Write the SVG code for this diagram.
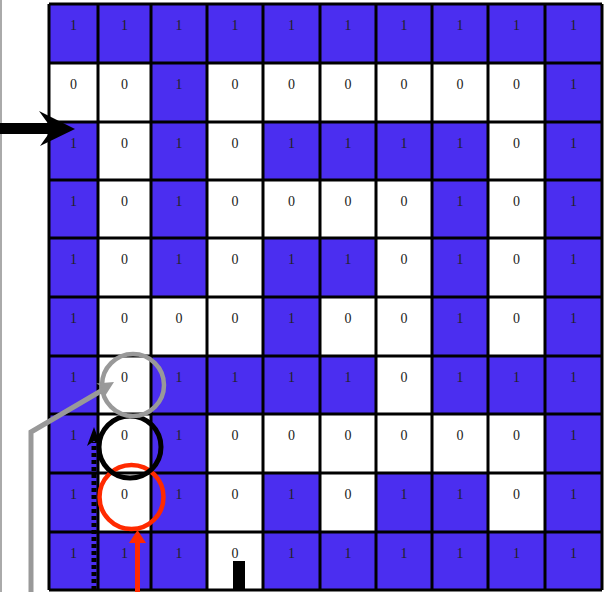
<svg xmlns="http://www.w3.org/2000/svg" width="605" height="592" viewBox="0 0 605 592">
<style>
.b{fill:#4b2ef0}
.w{fill:#ffffff}
.t{font-family:"Liberation Serif","Times New Roman",serif;font-size:14px;fill:#222;text-anchor:middle}
.g{stroke:#000;stroke-width:3;fill:none}
</style>
<rect x="0" y="0" width="605" height="592" fill="#fff"/>
<line x1="1" y1="0" x2="1" y2="592" stroke="#aaa" stroke-width="2"/>
<g id="grid">
<g id="r0">
<rect class="b" x="49" y="4" width="49" height="59"/><text class="t" x="73.5" y="30">1</text>
<rect class="b" x="98" y="4" width="53" height="59"/><text class="t" x="124.5" y="30">1</text>
<rect class="b" x="151" y="4" width="56" height="59"/><text class="t" x="179" y="30">1</text>
<rect class="b" x="207" y="4" width="56" height="59"/><text class="t" x="235" y="30">1</text>
<rect class="b" x="263" y="4" width="57" height="59"/><text class="t" x="291.5" y="30">1</text>
<rect class="b" x="320" y="4" width="56" height="59"/><text class="t" x="348" y="30">1</text>
<rect class="b" x="376" y="4" width="56" height="59"/><text class="t" x="404" y="30">1</text>
<rect class="b" x="432" y="4" width="56" height="59"/><text class="t" x="460" y="30">1</text>
<rect class="b" x="488" y="4" width="57" height="59"/><text class="t" x="516.5" y="30">1</text>
<rect class="b" x="545" y="4" width="57" height="59"/><text class="t" x="573.5" y="30">1</text>
</g>
<g id="r1">
<rect class="w" x="49" y="63" width="49" height="59"/><text class="t" x="73.5" y="89">0</text>
<rect class="w" x="98" y="63" width="53" height="59"/><text class="t" x="124.5" y="89">0</text>
<rect class="b" x="151" y="63" width="56" height="59"/><text class="t" x="179" y="89">1</text>
<rect class="w" x="207" y="63" width="56" height="59"/><text class="t" x="235" y="89">0</text>
<rect class="w" x="263" y="63" width="57" height="59"/><text class="t" x="291.5" y="89">0</text>
<rect class="w" x="320" y="63" width="56" height="59"/><text class="t" x="348" y="89">0</text>
<rect class="w" x="376" y="63" width="56" height="59"/><text class="t" x="404" y="89">0</text>
<rect class="w" x="432" y="63" width="56" height="59"/><text class="t" x="460" y="89">0</text>
<rect class="w" x="488" y="63" width="57" height="59"/><text class="t" x="516.5" y="89">0</text>
<rect class="b" x="545" y="63" width="57" height="59"/><text class="t" x="573.5" y="89">1</text>
</g>
<g id="r2">
<rect class="b" x="49" y="122" width="49" height="58"/><text class="t" x="73.5" y="148">1</text>
<rect class="w" x="98" y="122" width="53" height="58"/><text class="t" x="124.5" y="148">0</text>
<rect class="b" x="151" y="122" width="56" height="58"/><text class="t" x="179" y="148">1</text>
<rect class="w" x="207" y="122" width="56" height="58"/><text class="t" x="235" y="148">0</text>
<rect class="b" x="263" y="122" width="57" height="58"/><text class="t" x="291.5" y="148">1</text>
<rect class="b" x="320" y="122" width="56" height="58"/><text class="t" x="348" y="148">1</text>
<rect class="b" x="376" y="122" width="56" height="58"/><text class="t" x="404" y="148">1</text>
<rect class="b" x="432" y="122" width="56" height="58"/><text class="t" x="460" y="148">1</text>
<rect class="w" x="488" y="122" width="57" height="58"/><text class="t" x="516.5" y="148">0</text>
<rect class="b" x="545" y="122" width="57" height="58"/><text class="t" x="573.5" y="148">1</text>
</g>
<g id="r3">
<rect class="b" x="49" y="180" width="49" height="58"/><text class="t" x="73.5" y="206">1</text>
<rect class="w" x="98" y="180" width="53" height="58"/><text class="t" x="124.5" y="206">0</text>
<rect class="b" x="151" y="180" width="56" height="58"/><text class="t" x="179" y="206">1</text>
<rect class="w" x="207" y="180" width="56" height="58"/><text class="t" x="235" y="206">0</text>
<rect class="w" x="263" y="180" width="57" height="58"/><text class="t" x="291.5" y="206">0</text>
<rect class="w" x="320" y="180" width="56" height="58"/><text class="t" x="348" y="206">0</text>
<rect class="w" x="376" y="180" width="56" height="58"/><text class="t" x="404" y="206">0</text>
<rect class="b" x="432" y="180" width="56" height="58"/><text class="t" x="460" y="206">1</text>
<rect class="w" x="488" y="180" width="57" height="58"/><text class="t" x="516.5" y="206">0</text>
<rect class="b" x="545" y="180" width="57" height="58"/><text class="t" x="573.5" y="206">1</text>
</g>
<g id="r4">
<rect class="b" x="49" y="238" width="49" height="59"/><text class="t" x="73.5" y="264">1</text>
<rect class="w" x="98" y="238" width="53" height="59"/><text class="t" x="124.5" y="264">0</text>
<rect class="b" x="151" y="238" width="56" height="59"/><text class="t" x="179" y="264">1</text>
<rect class="w" x="207" y="238" width="56" height="59"/><text class="t" x="235" y="264">0</text>
<rect class="b" x="263" y="238" width="57" height="59"/><text class="t" x="291.5" y="264">1</text>
<rect class="b" x="320" y="238" width="56" height="59"/><text class="t" x="348" y="264">1</text>
<rect class="w" x="376" y="238" width="56" height="59"/><text class="t" x="404" y="264">0</text>
<rect class="b" x="432" y="238" width="56" height="59"/><text class="t" x="460" y="264">1</text>
<rect class="w" x="488" y="238" width="57" height="59"/><text class="t" x="516.5" y="264">0</text>
<rect class="b" x="545" y="238" width="57" height="59"/><text class="t" x="573.5" y="264">1</text>
</g>
<g id="r5">
<rect class="b" x="49" y="297" width="49" height="59"/><text class="t" x="73.5" y="323">1</text>
<rect class="w" x="98" y="297" width="53" height="59"/><text class="t" x="124.5" y="323">0</text>
<rect class="w" x="151" y="297" width="56" height="59"/><text class="t" x="179" y="323">0</text>
<rect class="w" x="207" y="297" width="56" height="59"/><text class="t" x="235" y="323">0</text>
<rect class="b" x="263" y="297" width="57" height="59"/><text class="t" x="291.5" y="323">1</text>
<rect class="w" x="320" y="297" width="56" height="59"/><text class="t" x="348" y="323">0</text>
<rect class="w" x="376" y="297" width="56" height="59"/><text class="t" x="404" y="323">0</text>
<rect class="b" x="432" y="297" width="56" height="59"/><text class="t" x="460" y="323">1</text>
<rect class="w" x="488" y="297" width="57" height="59"/><text class="t" x="516.5" y="323">0</text>
<rect class="b" x="545" y="297" width="57" height="59"/><text class="t" x="573.5" y="323">1</text>
</g>
<g id="r6">
<rect class="b" x="49" y="356" width="49" height="58"/><text class="t" x="73.5" y="382">1</text>
<rect class="w" x="98" y="356" width="53" height="58"/><text class="t" x="124.5" y="382">0</text>
<rect class="b" x="151" y="356" width="56" height="58"/><text class="t" x="179" y="382">1</text>
<rect class="b" x="207" y="356" width="56" height="58"/><text class="t" x="235" y="382">1</text>
<rect class="b" x="263" y="356" width="57" height="58"/><text class="t" x="291.5" y="382">1</text>
<rect class="b" x="320" y="356" width="56" height="58"/><text class="t" x="348" y="382">1</text>
<rect class="w" x="376" y="356" width="56" height="58"/><text class="t" x="404" y="382">0</text>
<rect class="b" x="432" y="356" width="56" height="58"/><text class="t" x="460" y="382">1</text>
<rect class="b" x="488" y="356" width="57" height="58"/><text class="t" x="516.5" y="382">1</text>
<rect class="b" x="545" y="356" width="57" height="58"/><text class="t" x="573.5" y="382">1</text>
</g>
<g id="r7">
<rect class="b" x="49" y="414" width="49" height="59"/><text class="t" x="73.5" y="440">1</text>
<rect class="w" x="98" y="414" width="53" height="59"/><text class="t" x="124.5" y="440">0</text>
<rect class="b" x="151" y="414" width="56" height="59"/><text class="t" x="179" y="440">1</text>
<rect class="w" x="207" y="414" width="56" height="59"/><text class="t" x="235" y="440">0</text>
<rect class="w" x="263" y="414" width="57" height="59"/><text class="t" x="291.5" y="440">0</text>
<rect class="w" x="320" y="414" width="56" height="59"/><text class="t" x="348" y="440">0</text>
<rect class="w" x="376" y="414" width="56" height="59"/><text class="t" x="404" y="440">0</text>
<rect class="w" x="432" y="414" width="56" height="59"/><text class="t" x="460" y="440">0</text>
<rect class="w" x="488" y="414" width="57" height="59"/><text class="t" x="516.5" y="440">0</text>
<rect class="b" x="545" y="414" width="57" height="59"/><text class="t" x="573.5" y="440">1</text>
</g>
<g id="r8">
<rect class="b" x="49" y="473" width="49" height="59"/><text class="t" x="73.5" y="499">1</text>
<rect class="w" x="98" y="473" width="53" height="59"/><text class="t" x="124.5" y="499">0</text>
<rect class="b" x="151" y="473" width="56" height="59"/><text class="t" x="179" y="499">1</text>
<rect class="w" x="207" y="473" width="56" height="59"/><text class="t" x="235" y="499">0</text>
<rect class="b" x="263" y="473" width="57" height="59"/><text class="t" x="291.5" y="499">1</text>
<rect class="w" x="320" y="473" width="56" height="59"/><text class="t" x="348" y="499">0</text>
<rect class="b" x="376" y="473" width="56" height="59"/><text class="t" x="404" y="499">1</text>
<rect class="b" x="432" y="473" width="56" height="59"/><text class="t" x="460" y="499">1</text>
<rect class="w" x="488" y="473" width="57" height="59"/><text class="t" x="516.5" y="499">0</text>
<rect class="b" x="545" y="473" width="57" height="59"/><text class="t" x="573.5" y="499">1</text>
</g>
<g id="r9">
<rect class="b" x="49" y="532" width="49" height="58"/><text class="t" x="73.5" y="558">1</text>
<rect class="b" x="98" y="532" width="53" height="58"/><text class="t" x="124.5" y="558">1</text>
<rect class="b" x="151" y="532" width="56" height="58"/><text class="t" x="179" y="558">1</text>
<rect class="w" x="207" y="532" width="56" height="58"/><text class="t" x="235" y="558">0</text>
<rect class="b" x="263" y="532" width="57" height="58"/><text class="t" x="291.5" y="558">1</text>
<rect class="b" x="320" y="532" width="56" height="58"/><text class="t" x="348" y="558">1</text>
<rect class="b" x="376" y="532" width="56" height="58"/><text class="t" x="404" y="558">1</text>
<rect class="b" x="432" y="532" width="56" height="58"/><text class="t" x="460" y="558">1</text>
<rect class="b" x="488" y="532" width="57" height="58"/><text class="t" x="516.5" y="558">1</text>
<rect class="b" x="545" y="532" width="57" height="58"/><text class="t" x="573.5" y="558">1</text>
</g>
<path class="g" d="M49 4V590M98 4V590M151 4V590M207 4V590M263 4V590M320 4V590M376 4V590M432 4V590M488 4V590M545 4V590M602 4V590M49 4H602M49 63H602M49 122H602M49 180H602M49 238H602M49 297H602M49 356H602M49 414H602M49 473H602M49 532H602M49 590H602"/>
</g>
<rect id="marker-block" x="233" y="561" width="12" height="30" fill="#000"/>
<g id="circles">
<circle id="red-circle" cx="131.5" cy="497" r="32" fill="none" stroke="#ff2a00" stroke-width="4.5"/>
<circle id="black-circle" cx="130" cy="447" r="31" fill="none" stroke="#000" stroke-width="5"/>
<circle id="gray-circle" cx="133" cy="385" r="31" fill="none" stroke="#999" stroke-width="4.5"/>
</g>
<g id="connectors">
<rect x="0" y="123" width="55" height="11" fill="#000"/>
<polygon points="39,111 75,129 40,146 52,129" fill="#000"/>
<polyline points="31,592 31,432 106,388" fill="none" stroke="#999" stroke-width="5"/>
<polygon points="114,382 104.4,397.1 104.6,387.7 96.2,383.5" fill="#999"/>
<line x1="94" y1="590" x2="94" y2="442" stroke="#000" stroke-width="5" stroke-dasharray="4 3"/>
<polygon points="94,427 101,446 94,441 87,446" fill="#000"/>
<line x1="137.5" y1="592" x2="137.5" y2="538" stroke="#ff2a00" stroke-width="5"/>
<polygon points="137.5,530 146,543 129,543" fill="#ff2a00"/>
</g>
</svg>
